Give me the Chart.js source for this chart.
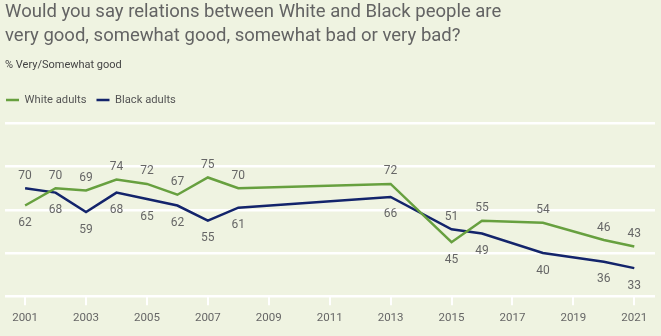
<!DOCTYPE html>
<html>
<head>
<meta charset="utf-8">
<script src="https://cdn.jsdelivr.net/npm/chart.js@4"></script>
<style>
  html, body { margin: 0; padding: 0; background: #eff3e1; }
  #wrap { width: 661px; height: 336px; position: relative; }
</style>
</head>
<body>
<div id="wrap"><canvas id="relChart"></canvas></div>
<script>
// ---- data ----
const years = [2001, 2002, 2003, 2004, 2005, 2006, 2007, 2008, 2013, 2015, 2016, 2018, 2020, 2021];
const whiteAdults = [62, 70, 69, 74, 72, 67, 75, 70, 72, 45, 55, 54, 46, 43];
const blackAdults = [70, 68, 59, 68, 65, 62, 55, 61, 66, 51, 49, 40, 36, 33];
const xTicks = [2001, 2003, 2005, 2007, 2009, 2011, 2013, 2015, 2017, 2019, 2021];
const yGrid = [20, 40, 60, 80, 100];

const GREEN = '#67a03f';
const NAVY = '#13246b';
const GREY = '#666666';
const FONT = 'Roboto, "Liberation Sans", sans-serif';

// value labels: higher series of the pair goes above, lower below
const valueLabels = {
    id: 'valueLabels',
    afterDatasetsDraw(chart) {
        const ctx = chart.ctx;
        ctx.save();
        ctx.font = '12px ' + FONT;
        ctx.fillStyle = GREY;
        ctx.textAlign = 'center';
        chart.data.datasets.forEach((ds, di) => {
            const other = chart.data.datasets[1 - di];
            const meta = chart.getDatasetMeta(di);
            meta.data.forEach((pt, i) => {
                const v = ds.data[i].y;
                const above = v >= other.data[i].y;
                if (above) {
                    ctx.textBaseline = 'bottom';
                    ctx.fillText(v, pt.x, pt.y - 6.5);
                } else {
                    ctx.textBaseline = 'top';
                    ctx.fillText(v, pt.x, pt.y + 11.5);
                }
            });
        });
        ctx.restore();
    }
};

// extra room under the legend, and legend flush with the left edge
const legendTweak = {
    id: 'legendTweak',
    beforeInit(chart) {
        const fit = chart.legend.fit;
        chart.legend.fit = function () {
            fit.call(this);
            this.height += 8;
        };
    },
    afterLayout(chart) {
        chart.legend.left -= 9;
        chart.legend.right -= 9;
    }
};

new Chart(document.getElementById('relChart'), {
    type: 'line',
    data: {
        datasets: [
            {
                label: 'White adults',
                data: years.map((y, i) => ({ x: y, y: whiteAdults[i] })),
                borderColor: GREEN,
                backgroundColor: GREEN,
                borderWidth: 2.5,
                pointRadius: 0,
                tension: 0,
            },
            {
                label: 'Black adults',
                data: years.map((y, i) => ({ x: y, y: blackAdults[i] })),
                borderColor: NAVY,
                backgroundColor: NAVY,
                borderWidth: 2.5,
                pointRadius: 0,
                tension: 0,
            }
        ]
    },
    options: {
        responsive: true,
        maintainAspectRatio: false,
        animation: false,
        layout: { padding: { left: 5, right: 6, top: 0, bottom: 4 } },
        plugins: {
            title: {
                display: true,
                align: 'start',
                text: ['Would you say relations between White and Black people are',
                       'very good, somewhat good, somewhat bad or very bad?'],
                color: '#636363',
                font: { family: FONT, size: 18.5, weight: 'normal', lineHeight: 1.3 },
                padding: { top: 0, bottom: 11 },
            },
            subtitle: {
                display: true,
                align: 'start',
                text: '% Very/Somewhat good',
                color: '#444444',
                font: { family: FONT, size: 11, lineHeight: 1.2 },
                padding: { top: 0, bottom: 12 },
            },
            legend: {
                display: true,
                align: 'start',
                labels: {
                    usePointStyle: true,
                    pointStyle: 'line',
                    pointStyleWidth: 13,
                    color: '#555555',
                    font: { family: FONT, size: 11.2 },
                    padding: 10,
                }
            },
            tooltip: { enabled: false },
        },
        scales: {
            x: {
                type: 'linear',
                min: 2000.34,
                max: 2021.68,
                afterBuildTicks: s => { s.ticks = xTicks.map(v => ({ value: v })); },
                grid: {
                    drawOnChartArea: false,
                    drawTicks: true,
                    tickLength: 9,
                    color: '#ffffff',
                    lineWidth: 2,
                },
                border: { display: false },
                ticks: {
                    color: GREY,
                    font: { family: FONT, size: 11.5 },
                    padding: 6.5,
                    maxRotation: 0,
                    autoSkip: false,
                    callback: v => String(v),
                },
            },
            y: {
                min: 20,
                max: 100,
                afterBuildTicks: s => { s.ticks = yGrid.map(v => ({ value: v })); },
                afterFit: s => { s.width = 0; },
                grid: {
                    color: '#ffffff',
                    lineWidth: 2.5,
                    drawTicks: false,
                },
                border: { display: false },
                ticks: { display: false },
            }
        }
    },
    plugins: [valueLabels, legendTweak]
});
</script>
</body>
</html>
